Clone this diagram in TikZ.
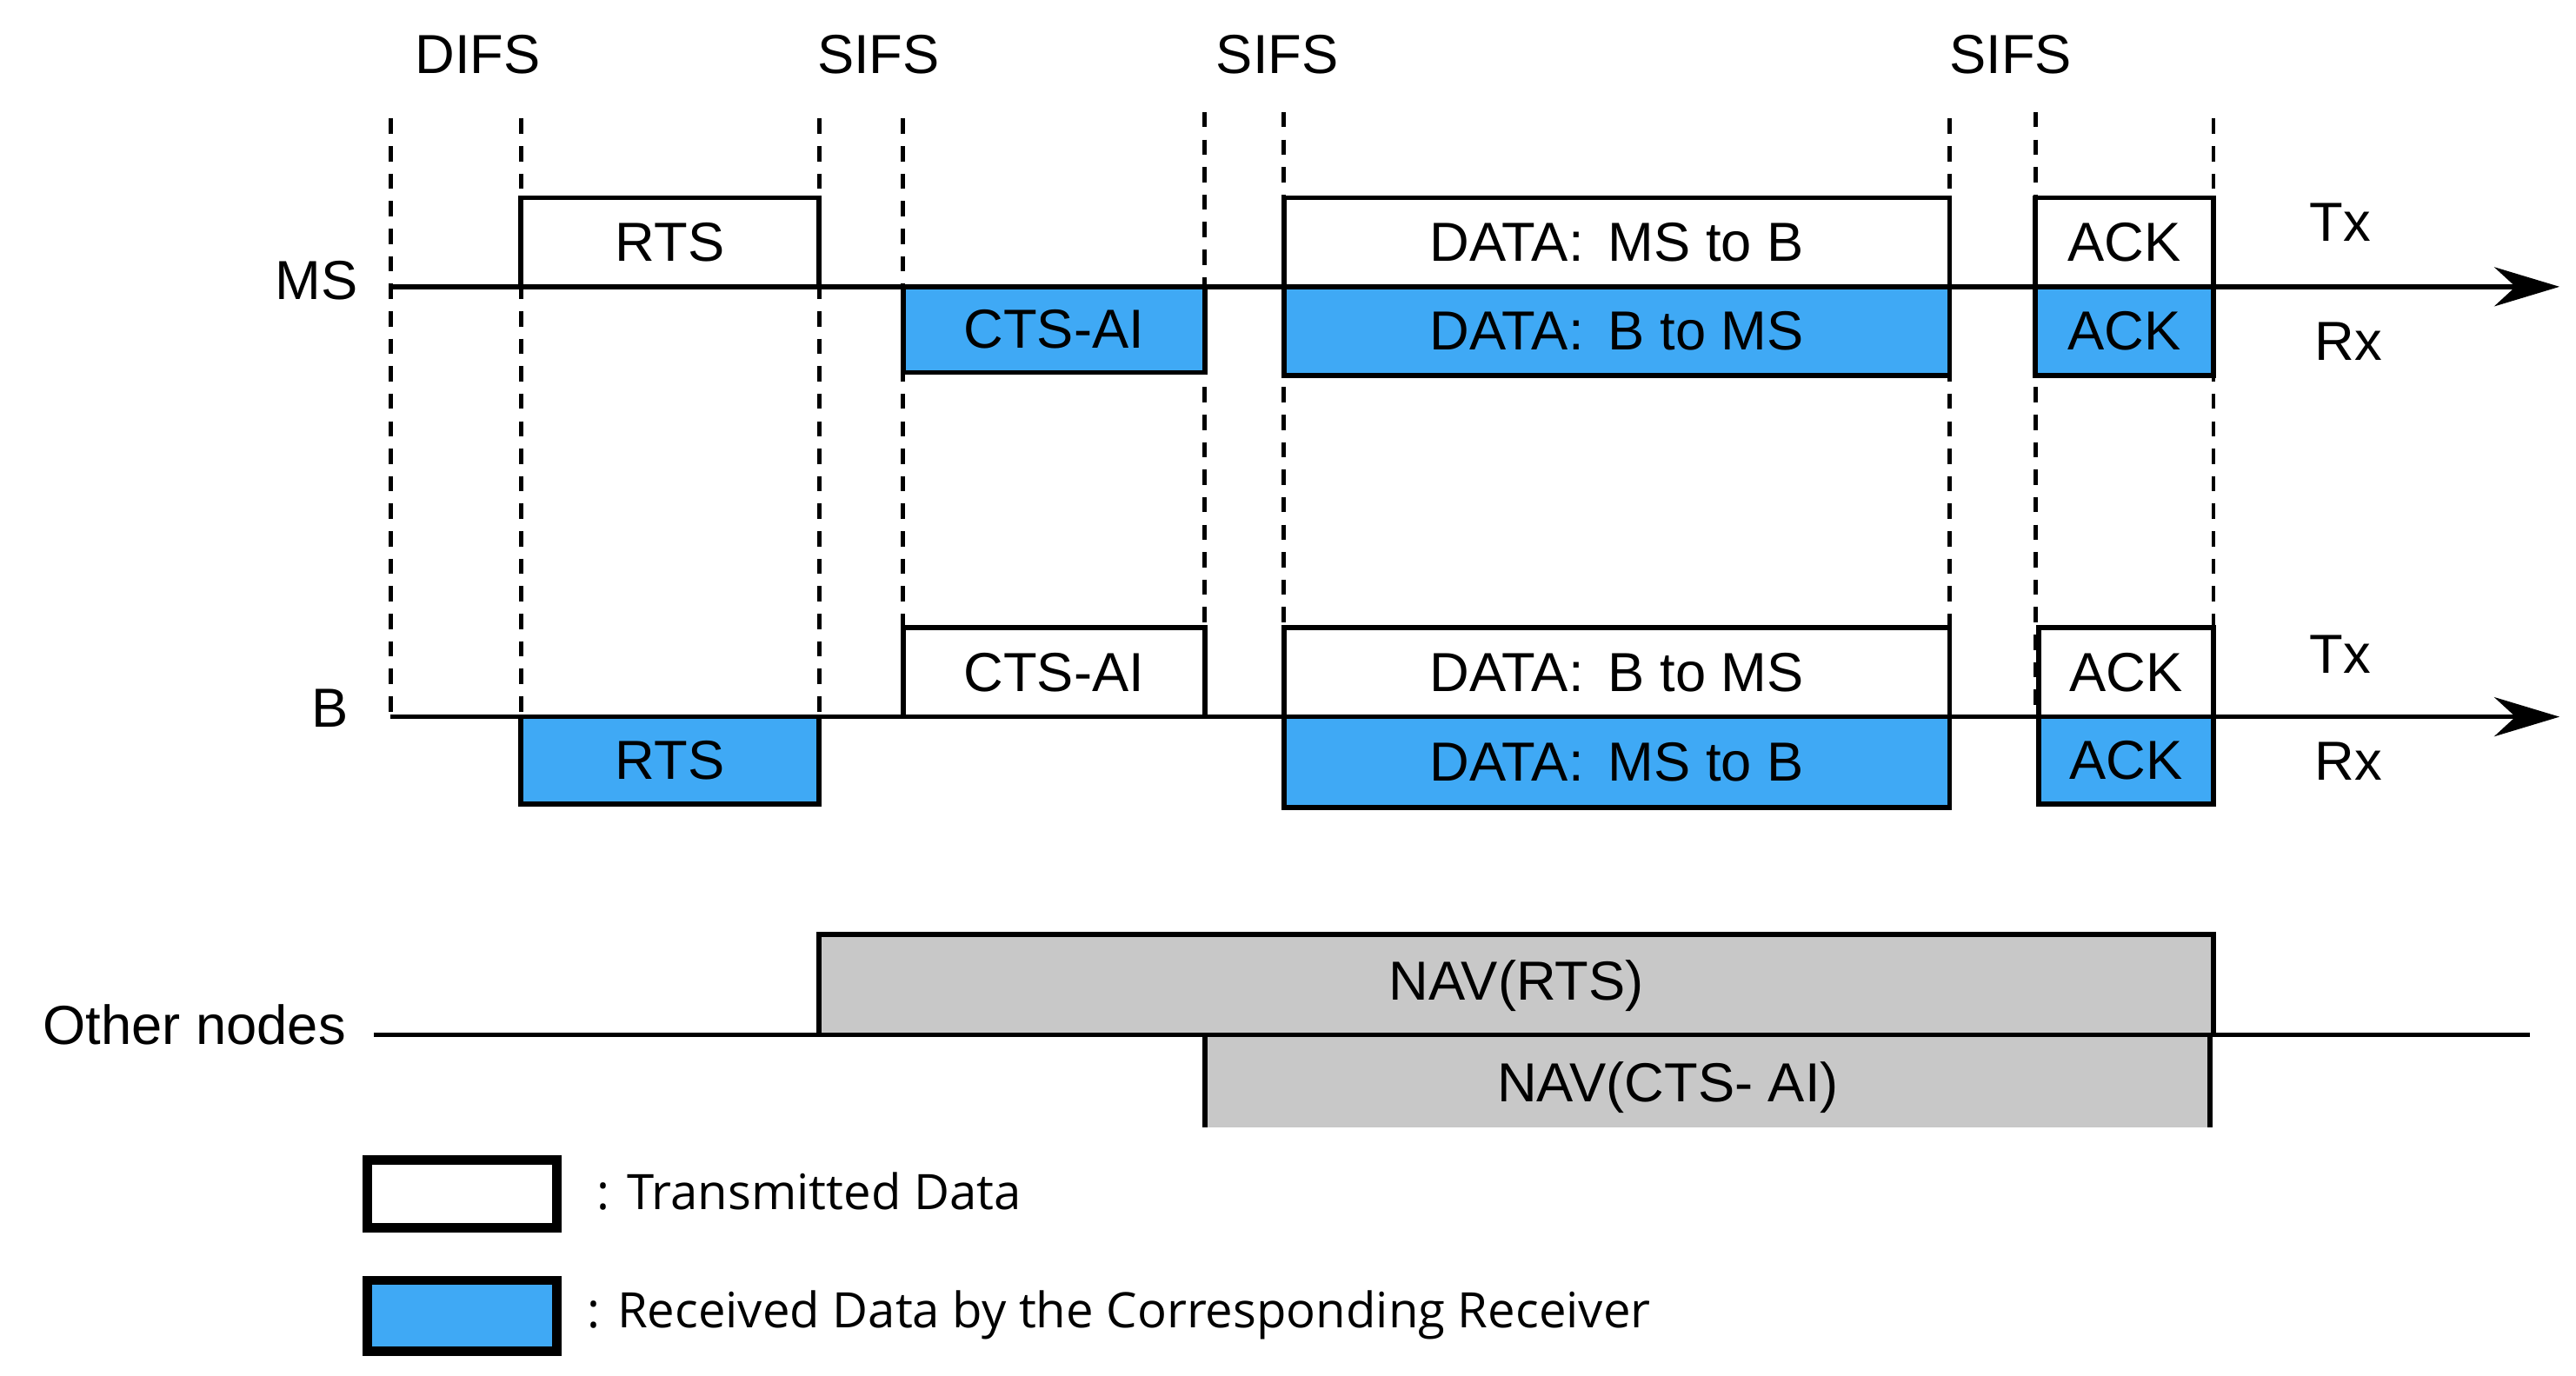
\documentclass[tikz,border=0pt]{standalone}
\usepackage{fontspec}
\setmainfont{Liberation Sans}
\newfontfamily\legfont{Open Sans}
\usetikzlibrary{arrows.meta}
\definecolor{blu}{HTML}{3FA9F5}
\definecolor{gry}{HTML}{C8C8C8}
\begin{document}
\begin{tikzpicture}[x=0.018957cm,y=-0.018957cm,
  box/.style={draw=black,line width=1.6pt},
  tx/.style={box,fill=white},
  rx/.style={box,fill=blu},
  dsh/.style={line width=1.4pt,dash pattern=on 5pt off 4pt},
  lbl/.style={font=\fontsize{18}{20}\selectfont,inner sep=0pt},
  ax/.style={line width=1.6pt,-{Stealth[length=0.75cm,width=0.45cm]}}]
\useasboundingbox (0,0) rectangle (1563,835);
% dashed verticals
\foreach \x/\t in {237/72,316/72,497/72,548/72,731/68,779/68,1183/72,1235/68,1343/72}
  \draw[dsh] (\x,\t) -- (\x,435);
% MS boxes
\draw[tx] (316,120) rectangle node[lbl]{RTS} (497,174);
\draw[rx] (548,174) rectangle node[lbl]{CTS-AI} (731,226);
\draw[tx] (779,120) rectangle node[lbl]{DATA:\, MS to B} (1183,174);
\draw[rx] (779,174) rectangle node[lbl]{DATA:\, B to MS} (1183,228);
\draw[tx] (1235,120) rectangle node[lbl]{ACK} (1343,174);
\draw[rx] (1235,174) rectangle node[lbl]{ACK} (1343,228);
% B boxes
\draw[tx] (548,381) rectangle node[lbl]{CTS-AI} (731,435);
\draw[tx] (779,381) rectangle node[lbl]{DATA:\, B to MS} (1183,435);
\draw[tx] (1237,381) rectangle node[lbl]{ACK} (1343,435);
\draw[rx] (316,435) rectangle node[lbl]{RTS} (497,488);
\draw[rx] (779,435) rectangle node[lbl]{DATA:\, MS to B} (1183,490);
\draw[rx] (1237,435) rectangle node[lbl]{ACK} (1343,488);
% axes
\coordinate (ms0) at (237,174); \coordinate (ms1) at (1553,174);
\coordinate (b0) at (237,435); \coordinate (b1) at (1553,435);
\draw[ax] (ms0) -- (ms1);
\draw[ax] (b0) -- (b1);
% labels
\node[lbl] (d1) at (290,33) {DIFS};
\node[lbl] (s1) at (533,33) {SIFS};
\node[lbl] (s2) at (775,33) {SIFS};
\node[lbl] (s3) at (1220,33) {SIFS};
\node[lbl] (ms) at (192,170) {MS};
\node[lbl] (b) at (200,430) {B};
\node[lbl] (t1) at (1420,135) {Tx};
\node[lbl] (r1) at (1425,207) {Rx};
\node[lbl] (t2) at (1420,397) {Tx};
\node[lbl] (r2) at (1425,462) {Rx};
% other nodes
\fill[gry] (497,567) rectangle (1343,628);
\draw[line width=1.6pt] (497,628) -- (497,567) -- (1343,567) -- (1343,628);
\node[lbl] at (920,598) {NAV(RTS)};
\fill[gry] (731,628) rectangle (1341,684);
\draw[line width=1.6pt] (731,684) -- (731,628);
\draw[line width=1.6pt] (1341,628) -- (1341,684);
\node[lbl] at (1012,660) {NAV(CTS- AI)};
\node[lbl] (on) at (118,622) {Other nodes};
\coordinate (o0) at (227,628); \coordinate (o1) at (1535,628);
\draw[line width=1.6pt] (o0) -- (o1);
% legend
\draw[line width=3pt,fill=white] (223,704) rectangle (338,745);
\draw[line width=3pt,fill=blu] (223,777) rectangle (338,820);
\node[anchor=west,inner sep=0pt,font=\legfont\fontsize{16}{18}\selectfont] at (362,723) {: Transmitted Data};
\node[anchor=west,inner sep=0pt,font=\legfont\fontsize{16}{18}\selectfont] at (356,798) {: Received Data by the Corresponding Receiver};
\end{tikzpicture}
\end{document}
